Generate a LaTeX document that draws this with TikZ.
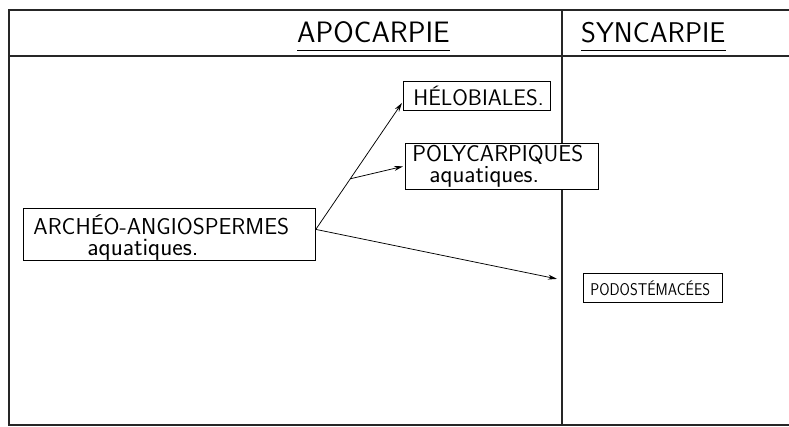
\documentclass[tikz,border=0pt]{standalone}
\usetikzlibrary{arrows.meta,calc}
\begin{document}
\begin{tikzpicture}[x=1pt,y=-1pt,
  frame/.style={line width=1.1pt,black!85},
  box/.style={draw,line width=0.8pt,fill=white,inner ysep=0pt,anchor=north west,
              align=left,font=\sffamily},
  link/.style={line width=0.75pt,-{Stealth[length=9pt,width=5pt]}},
  plain/.style={line width=0.7pt},
  head/.style={font=\sffamily\fontsize{29.5}{30}\selectfont,anchor=base west,inner sep=0pt}]
\useasboundingbox (0,0) rectangle (789,427);
% frame
\draw[frame] (789,10) -- (9,10) -- (9,425) -- (789,425);
\draw[frame] (9,56) -- (789,56);
\draw[frame] (562,10) -- (562,425);
% headings
\node[head] (apo) at (297,43) {APOCARPIE};
\node[head,font=\sffamily\fontsize{28.5}{30}\selectfont] (syn) at (581,43) {SYNCARPIE};
\draw[plain] ([yshift=-7pt]apo.base west) -- ([yshift=-7pt]apo.base east);
\draw[plain] ([yshift=-7pt]syn.base west) -- ([yshift=-7pt]syn.base east);
% boxes
\node[box,inner xsep=10pt,text width=272pt,minimum height=52pt,
      font=\sffamily\fontsize{23}{21}\selectfont] (arche) at (23,208)
  {\rule{0pt}{26pt}ARCHÉO-ANGIOSPERMES\\\hspace*{54pt}{\fontsize{25}{21}\selectfont aquatiques.}};
\node[box,inner xsep=10pt,text width=127pt,minimum height=29pt,
      font=\sffamily\fontsize{22.5}{20}\selectfont] (hel) at (403,81)
  {HÉLOBIALES.};
\node[box,inner xsep=7pt,text width=179pt,minimum height=46pt,
      font=\sffamily\fontsize{22.9}{20.5}\selectfont] (poly) at (405,143)
  {POLYCARPIQUES\\\hspace*{17pt}{\fontsize{24.7}{20.5}\selectfont aquatiques.}};
\node[box,inner xsep=7pt,text width=125pt,minimum height=29pt] (podo) at (583,273)
  {\scalebox{0.875}[1]{\fontsize{17}{17}\selectfont PODOSTÉMACÉES}};
% connectors
\coordinate (start) at ([yshift=5pt]arche.east);
\coordinate (heltip) at ([xshift=-1pt,yshift=-7pt]hel.west);
\coordinate (br) at ($(start)!0.4!(heltip)$);
\coordinate (podotip) at ([xshift=-26pt,yshift=9pt]podo.west);
\draw[link] (start) -- (heltip);
\draw[link] (br) -- ([xshift=-2pt]poly.west);
\draw[link] (start) -- (podotip);
\end{tikzpicture}
\end{document}
